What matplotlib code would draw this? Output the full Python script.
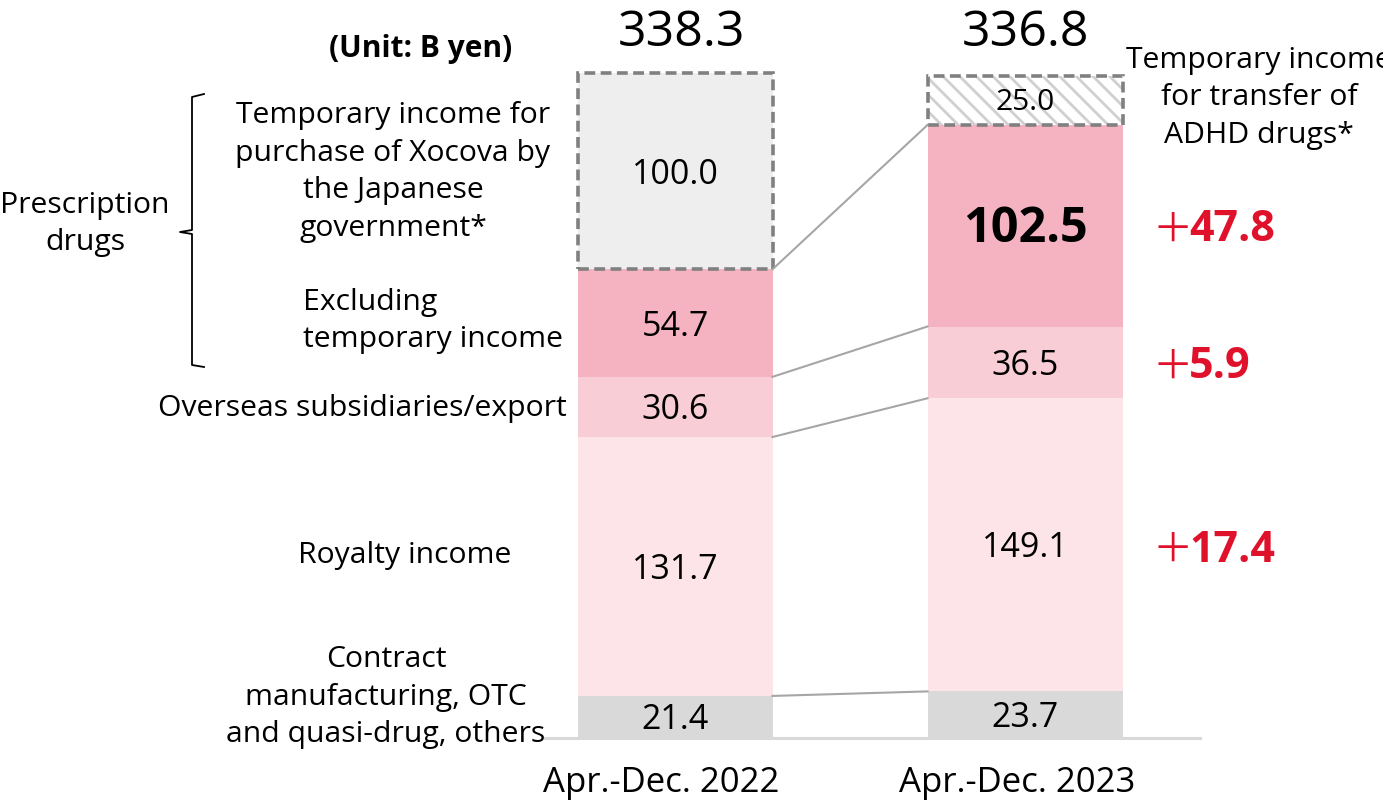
import matplotlib
matplotlib.use("Agg")
import matplotlib.pyplot as plt
import numpy as np

# ---- data ----
periods = ["Apr.-Dec. 2022", "Apr.-Dec. 2023"]
contract = [21.4, 23.7]
royalty = [131.7, 149.1]
overseas = [30.6, 36.5]
excl_temp = [54.7, 102.5]
temporary = [100.0, 25.0]
totals = [338.3, 336.8]
increases = ["47.8", "5.9", "17.4"]

plt.rcParams['font.family'] = ['Open Sans', 'Noto Sans CJK JP', 'DejaVu Sans']
plt.rcParams['hatch.linewidth'] = 2.0

W, H = 1383, 807
fig = plt.figure(figsize=(W / 100, H / 100), dpi=100)
ax = fig.add_axes([0, 0, 1, 1])

# pixel <-> data helpers (layout only)
X0, XS = 675.0, 350.0
Y0, YS = 738.0, 1.966
def px(x):
    return (x - X0) / XS
def py(y):
    return (Y0 - y) / YS

ax.set_xlim(px(0), px(W))
ax.set_ylim(py(H), py(0))
ax.axis('off')

x = np.arange(len(periods))
bw = 195 / XS
dy = 3.5 / YS  # small downward text offset

c_contract = '#D9D9D9'
c_royalty = '#FCE4E8'
c_overseas = '#F8CDD5'
c_excl = '#F5B3C1'

contract = np.array(contract)
royalty = np.array(royalty)
overseas = np.array(overseas)
excl_temp = np.array(excl_temp)
temporary = np.array(temporary)

b0 = np.zeros(2)
ax.bar(x, contract, bw, bottom=b0, color=c_contract, linewidth=0)
b1 = b0 + contract
ax.bar(x, royalty, bw, bottom=b1, color=c_royalty, linewidth=0)
b2 = b1 + royalty
ax.bar(x, overseas, bw, bottom=b2, color=c_overseas, linewidth=0)
b3 = b2 + overseas
ax.bar(x, excl_temp, bw, bottom=b3, color=c_excl, linewidth=0)
b4 = b3 + excl_temp

# temporary income boxes
ax.bar(x[0], temporary[0], bw, bottom=b4[0], color='#EEEEEE', linewidth=0)
ax.bar(x[1], temporary[1], bw, bottom=b4[1], facecolor='white',
       edgecolor='#D0D0D0', hatch='\\\\', linewidth=0)
ax.bar(x, temporary, bw, bottom=b4, facecolor='none', edgecolor='#808080',
       linewidth=2.6, linestyle=(0, (3, 1.5)))

# baseline
ax.plot([px(545), px(1200)], [0, 0], color='#D9D9D9', lw=2.2, zorder=0.5)

# connector lines
lc = '#A6A6A6'
for lvl in (b1, b2, b3, b4):
    ax.plot([x[0] + bw / 2, x[1] - bw / 2], [lvl[0], lvl[1]], color=lc, lw=1.5)

# value labels
val_fs = 24.5
segs = [(b0, contract), (b1, royalty), (b2, overseas), (b3, excl_temp)]
for i in range(2):
    for bottom, v in segs:
        if i == 1 and v is excl_temp:
            ax.text(x[i], bottom[i] + v[i] / 2 - dy, f"{v[i]:.1f}", ha='center', va='center',
                    fontsize=35, fontweight='bold', color='black')
        else:
            ax.text(x[i], bottom[i] + v[i] / 2 - dy, f"{v[i]:.1f}", ha='center', va='center',
                    fontsize=val_fs, color='black')
ax.text(x[0], b4[0] + temporary[0] / 2 - dy, f"{temporary[0]:.1f}", ha='center', va='center',
        fontsize=val_fs)
ax.text(x[1], b4[1] + temporary[1] / 2 - dy / 2, f"{temporary[1]:.1f}", ha='center', va='center',
        fontsize=21.5)

# totals
for i, cx in enumerate([681, 1025]):
    ax.text(px(cx), py(33), f"{totals[i]:.1f}",
            ha='center', va='center', fontsize=36)

# period labels
for i, cx in enumerate([661, 1017]):
    ax.text(px(cx), py(783), periods[i], ha='center', va='center', fontsize=25)

# unit
ax.text(px(421), py(49), "(Unit: B yen)", ha='center', va='center', fontsize=21.5,
        fontweight='bold')

lab_fs = 21.7
ls = 1.38
ax.text(px(393), py(172), "Temporary income for\npurchase of Xocova by\nthe Japanese\ngovernment*",
        ha='center', va='center', fontsize=lab_fs, linespacing=ls)
ax.text(px(303), py(321), "Excluding\ntemporary income", ha='left', va='center',
        fontsize=lab_fs, linespacing=ls)
ax.text(px(567), py(409), "Overseas subsidiaries/export", ha='right', va='center',
        fontsize=lab_fs)
ax.text(px(405), py(555), "Royalty income", ha='center', va='center', fontsize=lab_fs)
ax.text(px(386), py(697), "Contract\nmanufacturing, OTC\nand quasi-drug, others",
        ha='center', va='center', fontsize=lab_fs, linespacing=ls)
ax.text(px(85), py(224), "Prescription\ndrugs", ha='center', va='center',
        fontsize=lab_fs, linespacing=ls)
ax.text(px(1259), py(98), "Temporary income\nfor transfer of\nADHD drugs*",
        ha='center', va='center', fontsize=lab_fs, linespacing=ls)

# brace
bx = [px(204), px(192), px(192), px(180), px(192), px(192), px(204)]
byy = [py(94), py(97), py(230), py(232), py(234), py(365), py(367)]
ax.plot(bx, byy, color='black', lw=1.3)

# increases
red = '#E0112B'
for val, yy in zip(increases, [230, 367, 550]):
    ax.text(px(1152), py(yy), "＋", ha='left', va='center', fontsize=29, color=red,
            family=['Noto Sans CJK JP', 'DejaVu Sans'])
    ax.text(px(1189), py(yy), val, ha='left', va='center', fontsize=31,
            fontweight='bold', color=red)

fig.savefig("out.png", dpi=100)
